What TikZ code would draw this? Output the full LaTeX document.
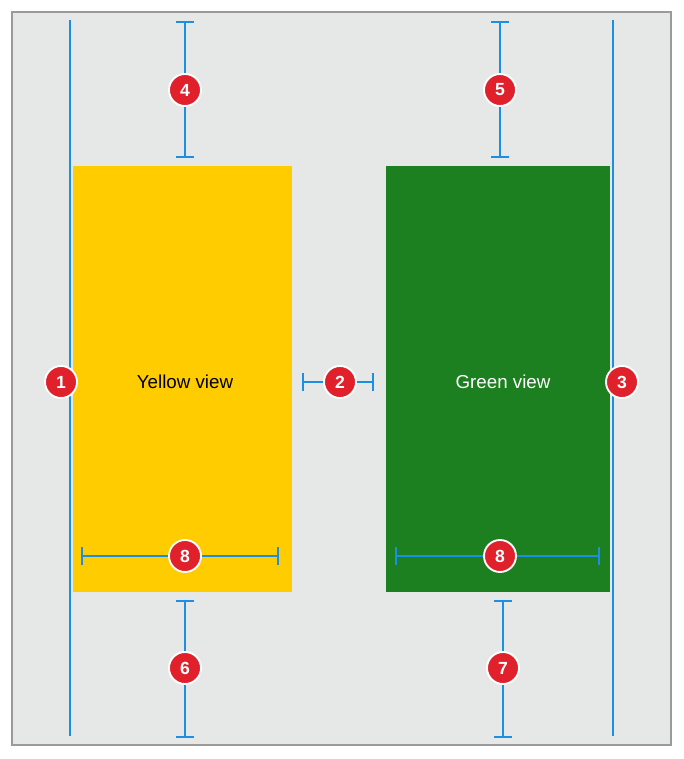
\documentclass[tikz,border=0pt]{standalone}
\usepackage{fontspec}
\setmainfont{Liberation Sans}
\usetikzlibrary{arrows.meta}
\definecolor{bg}{HTML}{E6E7E7}
\definecolor{frame}{HTML}{9A9A9A}
\definecolor{guideblue}{HTML}{1A8FE3}
\definecolor{yel}{HTML}{FFCC00}
\definecolor{grn}{HTML}{1C7F20}
\definecolor{badgered}{HTML}{E0202A}
\begin{document}
\begin{tikzpicture}[x=0.03cm, y=-0.03cm, badge/.style={circle, fill=badgered, draw=white, line width=1.6pt, minimum size=0.96cm, inner sep=0pt, text=white, font=\bfseries\fontsize{15}{15}\selectfont}, view/.style={draw=none, inner sep=0pt, font=\fontsize{16}{16}\selectfont}, guide/.style={guideblue, line width=1.6pt}, dim/.style={guideblue, line width=1.6pt, {Bar[width=0.54cm]}-{Bar[width=0.54cm]}}]
            \useasboundingbox (0,0) rectangle (684,759);
            % frame
            \draw[frame, fill=bg, line width=1.5pt] (12,12) rectangle (671,745);
            % views
            \fill[yel] (73,166) rectangle (292,592);
            \fill[grn] (386,166) rectangle (610,592);
            \node[view] (yview) at (185,382) {Yellow view};
            \node[view, text=white] (gview) at (503,382) {Green view};
            % guides
            \coordinate (l1) at (70,20);
            \coordinate (l2) at (70,736);
            \coordinate (r1) at (613,20);
            \coordinate (r2) at (613,736);
            \draw[guide] (l1) -- (l2);
            \draw[guide] (r1) -- (r2);
            % dimensions
            \coordinate (t4a) at (185,21);  \coordinate (t4b) at (185,158);
            \coordinate (t5a) at (500,21);  \coordinate (t5b) at (500,158);
            \coordinate (b6a) at (185,600); \coordinate (b6b) at (185,738);
            \coordinate (b7a) at (503,600); \coordinate (b7b) at (503,738);
            \coordinate (m2a) at (302,382); \coordinate (m2b) at (374,382);
            \coordinate (w8a) at (81,556);  \coordinate (w8b) at (279,556);
            \coordinate (w9a) at (395,556); \coordinate (w9b) at (600,556);
            \draw[dim] (t4a) -- (t4b);
            \draw[dim] (t5a) -- (t5b);
            \draw[dim] (b6a) -- (b6b);
            \draw[dim] (b7a) -- (b7b);
            \draw[dim] (m2a) -- (m2b);
            \draw[dim] (w8a) -- (w8b);
            \draw[dim] (w9a) -- (w9b);
            % badges
            \node[badge] (n1) at (61,382) {1};
            \node[badge] (n2) at (340,382) {2};
            \node[badge] (n3) at (622,382) {3};
            \node[badge] (n4) at (185,90) {4};
            \node[badge] (n5) at (500,90) {5};
            \node[badge] (n6) at (185,668) {6};
            \node[badge] (n7) at (503,668) {7};
            \node[badge] (n8a) at (185,556) {8};
            \node[badge] (n8b) at (500,556) {8};
        \end{tikzpicture}
\end{document}
